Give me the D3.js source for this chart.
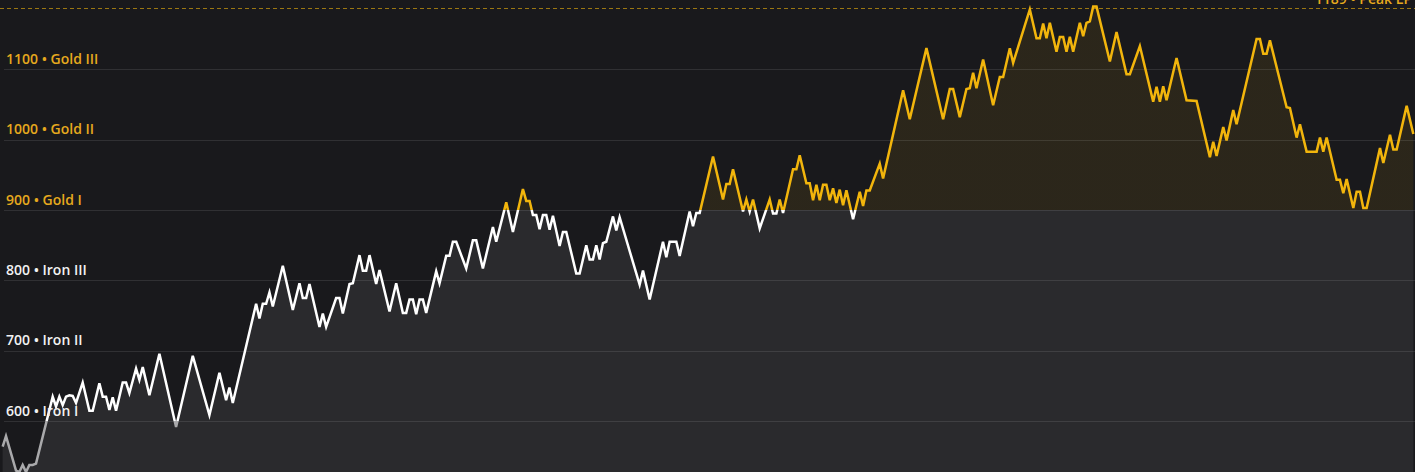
<!DOCTYPE html>
<html>
<head>
<meta charset="utf-8">
<script src="https://cdn.jsdelivr.net/npm/d3@7/dist/d3.min.js"></script>
<style>
  html, body { margin: 0; padding: 0; background: #19191c; overflow: hidden; }
  svg { display: block; }
  text { font-family: "Open Sans", "Noto Sans", sans-serif; font-weight: 600; }
</style>
</head>
<body>
<svg id="chart" width="1415" height="472"></svg>
<script>
// game number of each turning point of the LP history
var games = [1, 2, 5, 6, 7, 8, 9, 10, 11, 16, 17, 18, 19, 20, 21, 22, 23, 25, 27, 28,
  30, 31, 32, 33, 34, 35, 37, 38, 39, 41, 42, 43, 45, 48, 53, 58, 63, 66, 68, 69,
  70, 77, 78, 79, 80, 81, 82, 85, 88, 90, 91, 92, 93, 96, 97, 98, 101, 102, 103, 105,
  106, 108, 109, 110, 111, 113, 114, 117, 119, 121, 122, 123, 124, 125, 126, 127, 128, 131, 132, 134,
  135, 136, 137, 140, 142, 143, 145, 148, 149, 152, 154, 157, 158, 159, 160, 161, 162, 163, 164, 165,
  166, 168, 169, 170, 173, 174, 176, 177, 178, 179, 180, 181, 182, 184, 185, 186, 192, 193, 195, 199,
  200, 201, 203, 204, 207, 208, 209, 210, 214, 217, 218, 219, 220, 223, 224, 225, 226, 228, 231, 232,
  233, 234, 235, 238, 239, 240, 242, 243, 244, 245, 246, 247, 248, 249, 250, 251, 252, 253, 254, 256,
  258, 259, 260, 261, 264, 265, 271, 273, 278, 283, 285, 286, 288, 290, 291, 292, 293, 295, 298, 300,
  301, 303, 304, 309, 311, 312, 313, 314, 315, 317, 318, 319, 320, 321, 322, 324, 325, 326, 327, 328,
  329, 333, 335, 338, 339, 342, 346, 347, 348, 349, 350, 353, 356, 359, 363, 364, 365, 367, 368, 370,
  371, 377, 378, 379, 380, 381, 386, 387, 389, 390, 392, 395, 396, 397, 398, 401, 402, 403, 404, 406,
  407, 408, 409, 410, 414, 415, 417, 418, 419, 422, 424];
// LP at each of those games
var lp = [564, 579, 530, 528, 538, 528, 538, 538, 540, 635, 621, 635, 623, 635, 637, 636, 626, 655, 615, 615,
  654, 635, 635, 616, 634, 615, 655, 655, 640, 675, 659, 677, 637, 696, 592, 693, 609, 669, 630, 648,
  626, 767, 746, 767, 767, 783, 763, 821, 758, 796, 775, 775, 795, 734, 753, 734, 775, 775, 753, 795,
  796, 836, 814, 814, 836, 795, 815, 756, 796, 754, 754, 773, 773, 752, 773, 773, 754, 813, 796, 835,
  835, 855, 855, 817, 857, 857, 817, 876, 855, 911, 869, 930, 913, 913, 893, 893, 873, 893, 893, 872,
  892, 849, 869, 869, 810, 810, 850, 830, 830, 850, 830, 853, 855, 891, 871, 890, 794, 814, 773, 855,
  833, 855, 855, 835, 898, 877, 896, 896, 976, 915, 937, 937, 958, 898, 915, 898, 915, 874, 915, 895,
  895, 915, 896, 958, 958, 978, 938, 938, 914, 936, 914, 936, 936, 914, 931, 910, 929, 907, 928, 887,
  926, 906, 928, 928, 966, 945, 1070, 1029, 1130, 1029, 1072, 1072, 1032, 1072, 1073, 1095, 1073, 1114, 1049, 1089,
  1089, 1130, 1109, 1185, 1144, 1144, 1165, 1144, 1166, 1125, 1146, 1146, 1125, 1146, 1125, 1166, 1147, 1166, 1168, 1189,
  1189, 1111, 1153, 1093, 1093, 1133, 1054, 1075, 1054, 1076, 1056, 1116, 1056, 1055, 975, 997, 977, 1018, 999, 1042,
  1022, 1143, 1143, 1122, 1122, 1141, 1046, 1045, 1003, 1022, 983, 983, 1003, 983, 1003, 943, 943, 924, 944, 903,
  926, 926, 903, 903, 988, 967, 1007, 986, 986, 1048, 1008];

var tierTicks = [600, 700, 800, 900, 1000, 1100];
var tierNames = ["Iron I", "Iron II", "Iron III", "Gold I", "Gold II", "Gold III"];
var goldFloor = 900, ironFloor = 600;

var width = 1415, height = 472;
var gold = "#f2b50c", goldText = "#e6a91e", white = "#ffffff", grey = "#a9a9ab";

var data = games.map(function (g, i) { return {game: g, lp: lp[i]}; });
var peak = d3.max(lp);

var x = d3.scaleLinear().domain([0.2, 424.5]).range([0, width]);
var y = d3.scaleLinear().domain([528, 1198.4]).range([height, 0]);

var svg = d3.select("#chart");
var defs = svg.append("defs");

// hard colour stops at the tier floors
function stopAt(v) { return y(v) / height; }
var strokeGrad = defs.append("linearGradient")
    .attr("id", "strokeGrad")
    .attr("gradientUnits", "userSpaceOnUse")
    .attr("x1", 0).attr("y1", 0).attr("x2", 0).attr("y2", height);
[[0, gold], [stopAt(goldFloor), gold], [stopAt(goldFloor), white],
 [stopAt(ironFloor), white], [stopAt(ironFloor), grey], [1, grey]].forEach(function (s) {
    strokeGrad.append("stop").attr("offset", s[0]).attr("stop-color", s[1]);
});
var fillGrad = defs.append("linearGradient")
    .attr("id", "fillGrad")
    .attr("gradientUnits", "userSpaceOnUse")
    .attr("x1", 0).attr("y1", 0).attr("x2", 0).attr("y2", height);
[[0, gold, 0.085], [stopAt(goldFloor), gold, 0.085], [stopAt(goldFloor), white, 0.075],
 [1, white, 0.075]].forEach(function (s) {
    fillGrad.append("stop").attr("offset", s[0]).attr("stop-color", s[1]).attr("stop-opacity", s[2]);
});

var area = d3.area()
    .x(function (d) { return x(d.game); })
    .y0(height)
    .y1(function (d) { return y(d.lp); });
var line = d3.line()
    .x(function (d) { return x(d.game); })
    .y(function (d) { return y(d.lp); });

svg.append("path")
    .datum(data)
    .attr("d", area)
    .attr("fill", "url(#fillGrad)");

svg.append("g").selectAll("line")
    .data(tierTicks)
    .enter().append("line")
    .attr("x1", 4).attr("x2", width)
    .attr("y1", function (d) { return Math.round(y(d)) + 0.5; })
    .attr("y2", function (d) { return Math.round(y(d)) + 0.5; })
    .attr("stroke", "rgba(255,255,255,0.1)")
    .attr("stroke-width", 1);

// peak marker
svg.append("line")
    .attr("x1", 0).attr("x2", width)
    .attr("y1", Math.round(y(peak)) + 1.5).attr("y2", Math.round(y(peak)) + 1.5)
    .attr("stroke", gold)
    .attr("stroke-opacity", 0.6)
    .attr("stroke-width", 1)
    .attr("stroke-dasharray", "4,3");

svg.append("path")
    .datum(data)
    .attr("d", line)
    .attr("fill", "none")
    .attr("stroke", "url(#strokeGrad)")
    .attr("stroke-width", 2.5)
    .attr("stroke-linejoin", "miter")
    .attr("stroke-miterlimit", 4);

svg.append("g").selectAll("text")
    .data(tierTicks)
    .enter().append("text")
    .attr("x", 6)
    .attr("y", function (d) { return y(d) - 5.5; })
    .attr("font-size", 14)
    .attr("fill", function (d) { return d >= goldFloor ? goldText : "#f2f2f2"; })
    .text(function (d, i) { return d + " \u2022 " + tierNames[i]; });

svg.append("text")
    .attr("x", 1412)
    .attr("y", y(peak) - 3)
    .attr("text-anchor", "end")
    .attr("font-size", 14)
    .attr("fill", goldText)
    .text(peak + " \u2022 Peak LP");
</script>
</body>
</html>
